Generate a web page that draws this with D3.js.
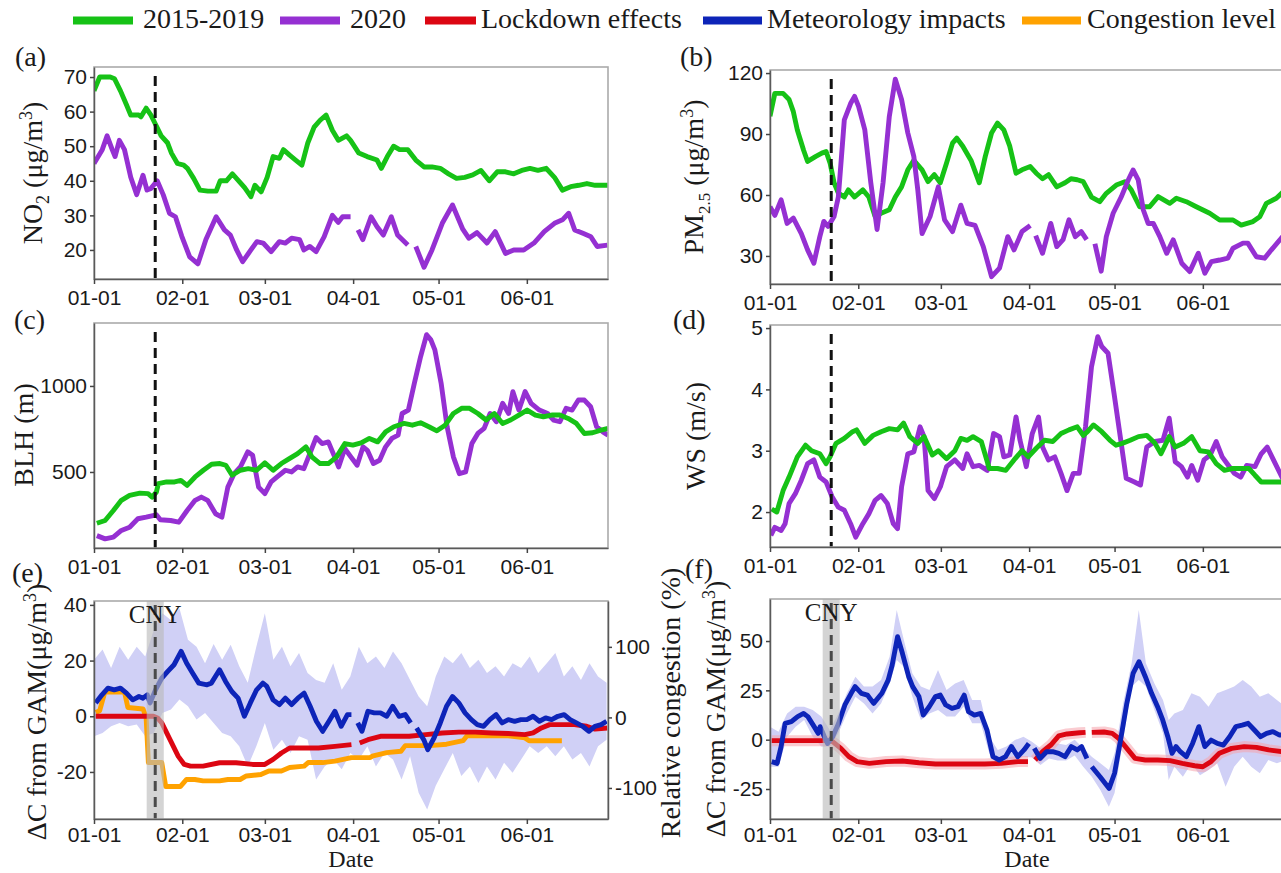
<!DOCTYPE html>
<html><head><meta charset="utf-8">
<script src="https://cdn.jsdelivr.net/npm/d3@7"></script>
<style>body{margin:0;background:#fff}svg{display:block}</style>
</head><body>
<svg id="c" width="1281" height="873"></svg>
<script>
// ---------------- DATA (day index from 2020-01-01, value) ----------------
const monthTickLabels = ["01-01","02-01","03-01","04-01","05-01","06-01"];
const lockdownDay = 21.5;          // dashed line
const cnyBand = [18.5, 24.5];      // CNY shaded period
const dayEnd = 180.5;

const no2_1519 = [[0,66],[2,70],[5.7,70],[7.2,69.5],[9.3,66],[11.4,62],[12.9,59],[15.7,59],[16.5,58.5],[18.3,61],[20,59],[21.5,56.5],[23.6,53],[25.8,51],[27.2,48],[29.3,45],[31.5,44.5],[32.9,43.5],[35,40.7],[37.2,37.3],[40,37],[42.9,37],[44.3,40],[46.5,40],[48.6,42],[50.8,40],[52.9,38],[55.1,35.4],[56.5,38.7],[58.7,36.8],[60.8,41],[62.9,47],[65.1,46.5],[66.5,49],[68.7,47.4],[70.8,46],[73,44.5],[75.1,51],[77.3,55.5],[79.4,57.5],[81.5,59],[83.7,54.6],[85.8,51.7],[88.7,53],[90.1,51.7],[93,48],[95.9,47],[99.4,46],[100.9,43.6],[103,47],[105.2,50],[107.3,49],[110.2,49],[113,46],[115.9,44],[118.7,44],[121.6,43.6],[124.5,42],[127.3,40.7],[130.2,41],[133,41.7],[135.9,43],[138.8,40],[141.6,42.6],[144.5,42.6],[147.4,42],[150.2,43],[153.1,43.6],[155.9,43],[158.8,43.6],[161.7,41],[164.5,37.3],[167.4,38.3],[170.2,38.7],[173.1,39.2],[176,38.7],[180.5,38.7]];
const no2_2020 = [[0,45],[2.9,49],[4.6,53],[6.4,49],[7.4,47],[8.9,51.7],[10.7,49],[12.9,41],[15,36],[17.2,41.6],[18.6,37.3],[20,37.8],[22.2,40],[24.3,36],[26.5,30.6],[28.6,29.6],[30.8,24],[33.6,18],[36.5,16],[39.3,23],[42.9,29.6],[45.8,25.8],[47.9,24.3],[50.1,20],[52.2,16.6],[55.1,20],[57.2,22.4],[59.4,22],[62.2,19.5],[65.1,22.4],[67.2,22],[69.4,23.4],[72.2,23],[73.7,20],[75.8,21],[78,19.5],[80.8,23.8],[83.7,30],[85.8,28],[87.3,29.6],[90.1,29.6],[91.4,null],[92.7,25.8],[94.4,23],[97.3,29.6],[99.4,26.7],[101.6,24.3],[104.4,29.6],[106.6,24.3],[110.2,21.4],[111.6,null],[113,21],[115.9,15],[118.7,20],[122.3,27.7],[125.9,33],[129.5,26],[131.6,23.4],[134.5,25],[138,22],[140.9,25.3],[144.5,19],[147.4,20],[150.9,20],[154.5,22],[158.1,25.3],[161.7,27.7],[164.5,28.7],[166.7,30.6],[168.8,25.8],[171.7,24.8],[174.5,23.8],[176.7,21],[180.3,21.4]];

const pm_1519 = [[0,98.7],[1.7,110],[4.6,110],[6.7,107],[8.2,101],[9.6,92],[11.8,82],[13.2,76.5],[16.1,79],[18.2,80.6],[19.7,81.4],[21.1,75.7],[22.5,66],[24,61],[26.1,59],[27.5,62.5],[29.7,59],[32.6,62.5],[34.7,59],[36.9,49.4],[39,51],[41.9,52.7],[44,59],[46.2,64],[48.4,72.4],[50.5,77],[53.4,72.4],[55.5,66.6],[57.7,70],[59.8,66],[62,75.7],[64.1,85.5],[65.6,88],[67.7,84],[70.6,77],[73.5,66],[75.6,79],[77.8,90.5],[79.9,95.4],[82.1,92],[84.2,84],[86.4,70.7],[88.5,72.4],[91.4,74],[93.5,70.7],[95.7,68],[97.8,70],[100.7,64],[103.6,66],[105.7,68],[107.9,67.5],[110,66.6],[112.9,59],[115.8,56.7],[118.1,60.8],[121.6,64.9],[124.6,66.5],[126.9,62.4],[129.8,54.2],[133.3,54.2],[136.3,59.2],[140.4,55.9],[142.7,58.4],[146.2,56.7],[149.7,54.2],[154.4,51],[157.9,47.7],[162.6,47.7],[165.5,45.2],[169.6,46.9],[172,49.3],[174.3,55.9],[177.8,58.4],[180.5,62]];
const pm_2020 = [[0,54.3],[1.7,50],[3.9,57.6],[6,46],[8.2,48.6],[11,41],[13.2,33],[15.4,26.4],[17.5,39.5],[18.9,47],[20.4,44.5],[22.5,49.4],[24,59],[26.1,97],[28.3,105],[29.7,108.5],[31.1,103.6],[33.3,92],[35.4,66],[37.6,43],[39.7,66],[41.9,98.7],[44,117],[46.2,107],[48.4,90.5],[50.5,79],[51.9,62.5],[53.4,41],[56.2,49.4],[59.1,64],[61.3,47.8],[64.1,42],[67,55],[69.2,46],[72,45],[74.9,34.6],[77.8,19.8],[80.6,24],[83.5,39.5],[85.7,33],[88.5,42],[91.4,45],[92.3,null],[93.3,40],[95.7,31.3],[98.6,46],[100.7,34.6],[102.9,38],[105,47.8],[107.2,39.5],[109.3,42],[111.2,38],[112.6,null],[114.1,36],[116.3,22.5],[118.1,39.5],[120.5,51],[123.4,59.2],[125.8,67.4],[127.5,72.3],[129.3,67.4],[131.1,52.6],[132.8,46],[134.6,46],[136.9,39.5],[139.3,31.3],[141.6,37.9],[144.6,26.4],[147.4,22.3],[150.4,31.3],[152.7,21.5],[155,27.2],[157.9,28],[160.8,28.9],[162.6,33.8],[166.1,36.3],[167.8,36.3],[170.8,29.6],[173.7,28.9],[176,32.9],[180.5,40.3]];

const blh_1519 = [[1,202],[3.9,218],[6.8,276],[9.6,335],[12.5,364],[16.1,377],[19,374],[20.4,354],[21.9,383],[22.6,432],[25.5,442],[28.3,442],[30.5,451],[32.7,422],[35.5,471],[38.4,510],[41.3,545],[44.2,549],[46.3,539],[48.5,481],[51.4,510],[54.2,519],[57.1,510],[60,553],[62.9,510],[65.8,549],[68.6,578],[71.5,607],[74.4,646],[76.5,588],[79.4,549],[82.3,549],[85.2,588],[88.1,665],[90.9,656],[93.8,669],[96.7,695],[99.6,675],[102.4,733],[105.3,763],[108.9,782],[111.8,772],[114.7,786],[117.6,763],[120.4,739],[123.3,772],[126.2,840],[129.1,870],[131.9,870],[134.8,840],[137.7,802],[140.6,840],[143.5,782],[146.3,802],[149.2,831],[152.1,860],[155,831],[157.8,821],[160.7,831],[163.6,831],[166.5,811],[169.4,782],[172.2,724],[175.1,728],[178,743],[180.5,753]];
const blh_2020 = [[1,130],[3.9,111],[6.8,121],[9.6,160],[12.5,179],[15.4,228],[18.3,237],[21.9,251],[23.3,222],[26.9,218],[29.8,208],[32.7,276],[35.5,335],[37.7,354],[39.9,335],[42.7,257],[44.9,237],[47,412],[49.2,490],[51.4,529],[54,617],[55.7,597],[57.8,412],[60,374],[62.2,442],[64.3,471],[67.2,510],[69.4,500],[71.5,529],[73.7,519],[75.8,607],[78,700],[80.1,665],[82.3,675],[84.5,588],[85.9,529],[88.1,636],[90.2,588],[92.4,539],[94.5,646],[96,626],[98.1,549],[100.3,568],[102.4,646],[104.6,695],[106.8,714],[108.2,840],[110.4,860],[112.5,1016],[114.7,1171],[116.8,1298],[118.3,1268],[119.7,1210],[121.9,1016],[124,763],[126.2,588],[128.3,490],[130.5,500],[132.7,665],[134.8,724],[137,753],[139.1,840],[141.3,792],[143.5,899],[145.6,840],[147.1,967],[149.2,860],[151.4,967],[153.5,899],[156.4,860],[159.3,840],[161.4,802],[163.6,792],[165.8,870],[167.9,860],[170.1,918],[172.2,918],[174.4,879],[176.5,763],[178.7,733],[180.5,714]];

const ws_1519 = [[0.6,2.05],[2.4,2.0],[4.6,2.35],[6.7,2.57],[9.6,2.9],[12.5,3.09],[14.6,3.0],[17.5,2.95],[19.7,2.79],[21.1,2.9],[23.2,3.12],[26.1,3.2],[29,3.31],[30.4,3.34],[33.3,3.12],[36.2,3.25],[39,3.31],[41.9,3.36],[44.8,3.34],[46.9,3.45],[49.1,3.23],[51.9,3.12],[54.1,3.23],[57,2.93],[59.1,3.0],[62,2.87],[64.9,3.0],[67,3.2],[69.2,3.17],[71.3,3.23],[74.2,3.15],[77,2.71],[79.9,2.71],[82.8,2.68],[85.7,2.85],[88.5,3.0],[90.7,2.9],[93.5,3.04],[96.4,3.17],[99.3,3.15],[102.2,3.28],[105,3.34],[107.9,3.39],[110,3.25],[111.5,3.31],[113.6,3.42],[116.5,3.31],[119.4,3.17],[121.5,3.09],[123.7,3.12],[126.5,3.17],[129.4,3.23],[132.3,3.25],[135.2,3.12],[137.3,2.95],[140.2,3.23],[142.3,3.06],[145.2,3.12],[148.1,3.23],[151,3.0],[153.9,2.98],[156.7,2.79],[159.6,2.68],[162.4,2.71],[165.3,2.71],[168.2,2.71],[170.3,2.6],[172.5,2.49],[176,2.49],[180.5,2.49]];
const ws_2020 = [[0.3,1.62],[1.7,1.75],[3.9,1.7],[5.3,1.81],[6.7,2.14],[8.9,2.3],[11,2.52],[13.2,2.79],[15.4,2.85],[17.5,2.57],[19.7,2.49],[21.8,2.25],[24,2.08],[26.1,2.03],[28.3,1.81],[30.1,1.59],[32.6,1.81],[34.7,1.97],[36.9,2.19],[39,2.27],[41.2,2.14],[43.3,1.81],[44.8,1.73],[46.2,2.41],[48.4,2.95],[50.5,2.98],[52.7,3.39],[54.1,3.23],[55.5,2.35],[57.7,2.22],[59.8,2.41],[62,2.74],[64.9,2.85],[67.7,2.71],[69.2,2.95],[71.3,2.74],[73.5,2.76],[76.3,2.68],[78.5,3.28],[80.6,3.23],[82.1,2.9],[84.2,2.93],[86.4,3.55],[87.8,3.17],[90,2.74],[92.1,3.28],[94.3,3.55],[95.7,3.06],[97.8,2.85],[100,2.9],[102.2,2.63],[104.3,2.35],[106.5,2.63],[108.6,2.63],[110.8,3.39],[112.9,4.37],[115.1,4.86],[116.5,4.7],[118.7,4.59],[120.8,3.94],[123,3.23],[125.1,2.55],[128,2.49],[130.1,2.44],[132.3,3.06],[135.2,3.15],[138,3.17],[140.2,3.53],[142.3,2.82],[144.5,2.74],[146.6,2.57],[148.1,2.76],[150.2,2.52],[152.4,2.85],[154.6,2.93],[156.7,3.15],[158.8,2.9],[161,2.76],[163.1,2.63],[165.3,2.57],[167.4,2.76],[170.3,2.74],[172.5,2.95],[174.6,3.06],[176.8,2.85],[180.5,2.5]];

// panel (e): NO2 decomposition
const e_met = [[0.6,4.8],[2.8,7.7],[4.9,10.1],[7.1,9.5],[9.3,10.1],[11.4,8.3],[13.6,5.9],[15.8,7.1],[17.2,6.5],[18.7,7.7],[19.7,4.8],[21.6,9.5],[23.8,13.7],[25.9,16.1],[28.1,18.5],[30.6,23.3],[32.5,19.1],[34.6,15.5],[36.8,11.9],[39.7,11.3],[41.2,11.9],[44.1,16.7],[46.2,12.5],[48.4,8.9],[50.6,6.5],[52.8,0],[54.9,4.8],[57.1,9.5],[59.3,11.9],[60.7,10.7],[62.9,5.9],[65.1,4.2],[67.2,6.5],[69.4,4.2],[71.6,6.5],[73.8,8.3],[75.9,3.6],[78.1,-1.8],[80.3,-5.4],[82.5,-1.8],[84.6,1.8],[86.8,-3.6],[89,0.6],[90.4,0.6],[91.5,null],[92.6,-2.4],[94.1,-5.4],[96.2,1.8],[98.4,1.2],[100.6,1.2],[102.8,0],[104.9,3.6],[107.1,0],[109.3,0.6],[111.2,-2.4],[112.2,null],[113.3,-4.2],[115.8,-8.4],[117.2,-12],[119.4,-7.8],[121.6,-2.4],[123.8,3.6],[125.9,7.1],[128.1,4.8],[130.3,1.2],[132.5,-1.2],[134.6,-3],[136.8,-3.6],[139,-1.2],[141.2,0.6],[143.3,-2.4],[145.5,-1.2],[147.7,-1.8],[149.9,-1.2],[152,-1.2],[154.2,0],[156.4,-1.8],[158.6,-0.6],[160.7,-1.2],[162.9,0],[165.1,0.6],[167.2,-1.2],[169.4,-2.4],[171.6,-3.6],[173.8,-5.4],[175.9,-3.6],[178.1,-3],[180,-1.8]];
const e_metCI = [[0,-7.2,20.3],[3,-6,24],[6,-3.6,17.3],[9,-2.4,25],[12,-3.6,20.3],[15,-3,25],[18,-7.2,21.5],[21,-6,31],[24,1.2,37],[27,2.4,34.6],[30,6,38.8],[33,3.6,27.5],[36,-1.2,25],[39,1.2,19],[42,-2.4,26],[45,-6,20.3],[48,-7.2,25.7],[51,-10.8,18],[54,-18,12],[57,-10.8,25],[60,-2.4,37],[63,-12,20.3],[66,-8.4,25],[69,-13.2,18],[72,-7.2,22.7],[75,-8.4,15.5],[78,-22.7,13],[81,-18,12],[84,-15.5,19],[87,-19,9.5],[90,-13.2,14.3],[93,-15.5,25],[96,-10.8,19],[99,-18,21.5],[102,-13.2,17.3],[105,-15.5,23.3],[108,-22.7,19],[111,-14.4,13],[114,-27.5,7.1],[117,-33.5,3.6],[120,-25,14.3],[123,-19,21.5],[126,-13.2,19],[129,-21.5,22.7],[132,-18,17.3],[135,-24,20.3],[138,-18,15.5],[141,-22.7,18],[144,-16.7,14.3],[147,-20.3,19],[150,-15.5,17.3],[153,-10.8,21.5],[156,-13.2,15.5],[159,-10.8,19],[162,-14.4,22.7],[165,-10.8,14.3],[168,-15.5,18],[171,-13.2,13],[174,-18,19],[177,-10.8,14.3],[180,-8.4,12]];
const e_lock = [[0.6,0],[20.9,0],[22.3,-0.6],[23.8,-2.4],[26.7,-8.4],[29.6,-14.4],[31.7,-17.3],[33.9,-17.9],[38.3,-17.9],[44.1,-16.7],[49.9,-16.7],[55.7,-17.3],[60,-17.3],[62.9,-15.5],[65.8,-13.2],[68.7,-11.4],[73,-11.4],[78.8,-11.4],[84.6,-10.8],[90.4,-10.2],[91.8,null],[93.3,-9.6],[96.2,-8.4],[100.6,-7.2],[104.9,-7.2],[110.7,-7.2],[116.5,-6.6],[122.3,-6],[128.1,-5.7],[133.9,-5.7],[139.7,-6],[145.5,-6.2],[151.3,-6.6],[154.2,-6],[157.1,-4.2],[160,-3],[162.9,-3],[168.7,-3],[173,-3.6],[175.9,-4.6],[180.3,-4.2]];
const e_congestion = [[0.6,7],[2,9.5],[3.8,36],[10.7,36],[11.9,14],[17.2,12],[18.3,0],[19.1,-64],[23.8,-64],[25.2,-98],[30.3,-98],[32.5,-88],[35.4,-88],[38.3,-90],[44.1,-90],[47,-88],[51.3,-88],[53.5,-83],[58.6,-81],[61.4,-76],[65.8,-76],[68.7,-71],[73.8,-69],[75.2,-64],[80.3,-64],[84.6,-62],[90.4,-57],[97,-57],[97.7,-55],[102.8,-50],[107.8,-48],[109.3,-40],[118,-40],[123.8,-38],[129.6,-33],[131,-26],[145.5,-26],[151.3,-29],[152.8,-33],[164.3,-33]];

// panel (f): PM2.5 decomposition
const f_met = [[0.6,-11.1],[2.5,-12],[3.9,-3.5],[5.3,8.3],[7.5,9.1],[9.7,11.7],[11.8,13.3],[13.3,11.7],[15.5,6.6],[16.9,3.2],[17.6,6.6],[19.1,1.5],[20.2,-1.9],[22,1.5],[24.1,8.3],[26.3,17.6],[28.5,23.5],[29.9,26.9],[32.1,23.5],[34.2,22.6],[36.4,18.4],[39.3,23.5],[41.5,30.2],[42.9,37.8],[44.8,52.2],[46.5,43.8],[48.7,31.9],[50.1,26.9],[52.3,21.8],[53.8,12.5],[55.9,16.7],[58.1,21.8],[59.8,22.6],[61.7,17.6],[63.9,15.9],[66,16.7],[68.2,22.6],[69.7,14.2],[71.8,12.5],[74,13.3],[76.2,4.9],[78.3,-8.6],[80.5,-10.3],[82.7,-8.6],[84.8,-3.5],[87,-8.6],[89.2,-5.2],[90.9,-1.9],[91.8,null],[92.8,-4.4],[94.9,-9.5],[97.1,-6.1],[99.3,-6.1],[101.4,-6.9],[103.6,-8.6],[105.8,-3.5],[107.9,-5.2],[109.4,-3.5],[111.3,-9.5],[112.2,null],[113,-13.7],[115.9,-18.8],[119.1,-24.7],[121,-17],[123.1,-0.2],[125.3,18.4],[127.5,33.6],[129.6,39.5],[131.8,31.9],[134,23.5],[136.1,16.7],[137.9,10],[139.7,1.5],[141.2,-6.9],[142.6,-3.5],[144.1,-6.1],[146.2,-8.6],[148.4,-1.9],[150.6,6.6],[152.7,-3.5],[154.9,-0.2],[157.1,-1.9],[159.2,-2.7],[161.4,1.5],[163.6,6.6],[165.8,7.4],[167.9,8.3],[170.1,4.9],[172.3,1.5],[174.4,3.2],[176.6,4.1],[178.8,2.4],[180.6,2.4]];
const f_metCI = [[0,-13.7,6.6],[3,-13.7,4],[6,1.5,13.3],[9,6.6,16.7],[12,10,16.7],[15,1.5,15],[18,-3.5,11.7],[21,-3.5,4.9],[24,3.2,13.3],[27,13.3,23.5],[30,21.8,31.9],[33,18.4,26.9],[36,13.3,26.9],[39,18.4,30.2],[42,28.5,42],[44.5,40.4,65.7],[47,37,50.5],[50,21.8,33.6],[53,10,26.9],[56,13.3,25.2],[59,15,35.3],[62,11.7,25.2],[65,11.7,28.5],[68,16.7,30.2],[71,8.3,20.1],[74,8.3,20.1],[77,-6.9,1.5],[80,-13.7,-5.2],[83,-11.1,-3.5],[86,-10.3,-0.2],[89,-8.6,1.5],[92,-9,-1],[95,-12.8,-4.4],[98,-9.5,-1.9],[101,-10.5,-1.9],[104,-10.5,-2.7],[107,-8,0],[110,-13.7,-4.4],[113,-18.8,-8.6],[116,-25.5,-12],[119,-34,-15.4],[121,-27,-6.9],[124,-0.2,18.4],[127,26.9,38.7],[129.5,30.2,65.7],[132,26.9,38.7],[135,15,28.5],[138,3.2,20.1],[140,-20.4,10],[142,-13.7,13.3],[145,-18.8,15],[148,-12,23.5],[151,-18,21.8],[154,-15.4,16.7],[157,-12,23.5],[160,-23.8,25.2],[163,-13.7,26.9],[166,-8.6,30.2],[169,-13.7,26.9],[172,-17,21.8],[175,-10.3,23.5],[178,-12,20.1],[181,-10.3,16.7]];
const f_lock = [[0.6,-0.5],[20,-0.5],[22,-1],[24.9,-4.4],[27.7,-8.6],[30.6,-11.1],[34.9,-12],[40.8,-11.1],[46.5,-10.8],[52.3,-11.7],[58.1,-12.3],[66.8,-12.3],[75.4,-12.3],[81.2,-12],[87,-11.1],[90.6,-11.1],[91.8,null],[93.1,-10.3],[95.7,-6.1],[98.6,-2.7],[101.4,1.9],[104.3,2.9],[108.7,3.5],[110.8,3.7],[111.9,null],[113,3.7],[117.3,3.9],[120.2,3.2],[122.4,0.7],[125.3,-4.4],[128.2,-9.5],[131.8,-10.3],[136.1,-10.3],[140.5,-10.6],[144.8,-12],[149.1,-13.2],[152,-13.7],[154.9,-11.1],[157.8,-6.9],[162.1,-4.4],[166.5,-3.5],[170.8,-3.9],[175.1,-5.2],[180.6,-6.2]];

const legendItems = ["2015-2019","2020","Lockdown effects","Meteorology impacts","Congestion level"];

// ---------------- STYLE / LAYOUT ----------------
const C = {green:"#16c216", purple:"#9530d2", red:"#dc0612", blue:"#0d24b8", orange:"#ffa200", band:"#d0d0f6"};
const SERIF = '"Liberation Serif","Times New Roman",Times,serif';
const SANS = '"Liberation Sans",Arial,Helvetica,sans-serif';
const start = new Date(2020,0,1);
const toDate = d => new Date(start.getTime() + d*864e5);
const monthTicks = d3.timeMonth.range(new Date(2020,0,1), new Date(2020,6,1));
const svg = d3.select('#c');
const defs = svg.append('defs');
const LW = 4.9;

function makePanel(p){
  const x = d3.scaleTime().domain([toDate(0), toDate(dayEnd)]).range([p.x0,p.x1]);
  const y = d3.scaleLinear().domain(p.yDom).range([p.y1,p.y0]);
  const g = svg.append('g');
  const cid = 'clip-'+p.id;
  defs.append('clipPath').attr('id',cid).append('rect')
    .attr('x',p.x0).attr('y',p.y0).attr('width',p.x1-p.x0).attr('height',p.y1-p.y0);
  const plot = g.append('g').attr('clip-path',`url(#${cid})`);
  const over = g.append('g');
  over.append('rect').attr('x',p.x0).attr('y',p.y0).attr('width',p.x1-p.x0).attr('height',p.y1-p.y0)
    .attr('fill','none').attr('stroke','#ababab').attr('stroke-width',1.6);
  const xa = over.append('g').attr('transform',`translate(0,${p.y1})`)
    .call(d3.axisBottom(x).tickValues(monthTicks).tickFormat((d,i)=>monthTickLabels[i]).tickSize(5).tickSizeOuter(0).tickPadding(p.xPad||6));
  const ya = over.append('g').attr('transform',`translate(${p.x0},0)`)
    .call(d3.axisLeft(y).tickValues(p.yTicks).tickFormat(d=>String(d)).tickSize(4).tickSizeOuter(0).tickPadding(3));
  [xa,ya].forEach(styleAxis);
  return {g,plot,over,x,y,p};
}
function styleAxis(a){
  a.select('.domain').attr('stroke','#5a5a5a').attr('stroke-width',1.5);
  a.selectAll('.tick line').attr('stroke','#444').attr('stroke-width',1.5);
  a.selectAll('.tick text').attr('font-family',SANS).attr('font-size',21).attr('fill','#1a1a1a');
}
function line(P,data,color,w,ys){
  const yy = ys||P.y;
  return P.plot.append('path').datum(data)
    .attr('d',d3.line().defined(d=>d[1]!=null).x(d=>P.x(toDate(d[0]))).y(d=>yy(d[1])))
    .attr('fill','none').attr('stroke',color).attr('stroke-width',w)
    .attr('stroke-linejoin','round').attr('stroke-linecap','butt');
}
function band(P,data,color){
  P.plot.append('path').datum(data)
    .attr('d',d3.area().x(d=>P.x(toDate(d[0]))).y0(d=>P.y(d[1])).y1(d=>P.y(d[2])))
    .attr('fill',color).attr('stroke','none');
}
function dashed(P,color,topPad){
  const xx = P.x(toDate(lockdownDay));
  P.plot.append('line').attr('x1',xx).attr('x2',xx).attr('y1',P.p.y0+topPad).attr('y2',P.p.y1)
    .attr('stroke',color).attr('stroke-width',3).attr('stroke-dasharray','10,6');
}
function cny(P,baseY){
  P.plot.append('rect').attr('x',P.x(toDate(cnyBand[0]))).attr('y',P.p.y0)
    .attr('width',P.x(toDate(cnyBand[1]))-P.x(toDate(cnyBand[0]))).attr('height',P.p.y1-P.p.y0)
    .attr('fill','#b9b9b9').attr('opacity',0.62);
  dashed(P,'#4a4a4a',4);
  P.over.append('text').attr('x',P.x(toDate(lockdownDay))).attr('y',baseY).attr('text-anchor','middle')
    .attr('font-family',SERIF).attr('font-size',25).attr('fill','#1a1a1a').text('CNY');
}
// rotated rich title; parts: [text, dy, size]
function vtitle(cx,cy,parts){
  const t = svg.append('text').attr('transform',`translate(${cx},${cy}) rotate(-90)`)
    .attr('text-anchor','middle').attr('font-family',SERIF).attr('font-size',28).attr('fill','#1a1a1a');
  parts.forEach(([s,dy,size])=>{
    const ts = t.append('tspan').text(s);
    if(dy) ts.attr('dy',dy);
    if(size) ts.attr('font-size',size);
  });
}
function plabel(x,y,s){
  svg.append('text').attr('x',x).attr('y',y).attr('font-family',SERIF).attr('font-size',28).attr('fill','#1a1a1a').text(s);
}

const L = {x0:94,x1:608}, R = {x0:770,x1:1284};
const A = makePanel({id:'a',...L,y0:67,y1:279,yDom:[11.6,72.9],yTicks:[20,30,40,50,60,70]});
const B = makePanel({id:'b',...R,y0:70,y1:284,yDom:[16.2,121.5],yTicks:[30,60,90,120]});
const Cc = makePanel({id:'c',...L,y0:323,y1:548,yDom:[58,1366],yTicks:[500,1000]});
const D = makePanel({id:'d',...R,y0:325,y1:547,yDom:[1.43,5.05],yTicks:[2,3,4,5]});
const E = makePanel({id:'e',...L,y0:601,y1:819,yDom:[-36.9,41.4],yTicks:[-20,0,20,40],xPad:3});
const F = makePanel({id:'f',...R,y0:599,y1:819,yDom:[-40.2,71.3],yTicks:[-25,0,25,50],xPad:3});

// (a)-(d)
[[A,no2_1519,no2_2020],[B,pm_1519,pm_2020],[Cc,blh_1519,blh_2020],[D,ws_1519,ws_2020]].forEach(([P,g,p],i)=>{
  if(i<2){ line(P,g,C.green,LW); line(P,p,C.purple,LW); }
  else { line(P,p,C.purple,LW); line(P,g,C.green,LW); }
  dashed(P,'#111',9);
});

// (e)
const yRight = d3.scaleLinear().domain([-144,165]).range([E.p.y1,E.p.y0]);
band(E,e_metCI,C.band);
line(E,e_congestion,C.orange,LW,yRight);
line(E,e_lock,C.red,LW);
line(E,e_met,C.blue,LW);
cny(E,623);
const ra = E.over.append('g').attr('transform',`translate(${E.p.x1},0)`)
  .call(d3.axisRight(yRight).tickValues([-100,0,100]).tickFormat(d=>String(d)).tickSize(4).tickSizeOuter(0).tickPadding(3));
styleAxis(ra);

// (f)
band(F,f_metCI,C.band);
line(F,f_lock,'#f6a3ab',11).attr('opacity',0.55);
line(F,f_lock,C.red,LW);
line(F,f_met,C.blue,LW);
cny(F,621);

// titles
vtitle(42,173,[["NO"],["2",7,18],[" (μg/m",-7],["3",-10,18],[")",10]]);
vtitle(703,177,[["PM"],["2.5",7,17],[" (μg/m",-7],["3",-10,18],[")",10]]);
vtitle(33,435,[["BLH (m)"]]);
vtitle(705,436,[["WS (m/s)"]]);
vtitle(46,712,[["ΔC from GAM(μg/m"],["3",-10,18],[")",10]]);
vtitle(725,709,[["ΔC from GAM(μg/m"],["3",-10,18],[")",10]]);
vtitle(680,703,[["Relative congestion (%)"]]);
svg.append('text').attr('x',(L.x0+L.x1)/2).attr('y',867).attr('text-anchor','middle')
  .attr('font-family',SERIF).attr('font-size',24).attr('fill','#1a1a1a').text('Date');
svg.append('text').attr('x',(R.x0+R.x1)/2).attr('y',867).attr('text-anchor','middle')
  .attr('font-family',SERIF).attr('font-size',24).attr('fill','#1a1a1a').text('Date');

plabel(15,66,'(a)'); plabel(680,66,'(b)');
plabel(14,329,'(c)'); plabel(673,329,'(d)');
plabel(12,582,'(e)'); plabel(685,578,'(f)');

// legend
const legPos = [[73,133,143],[280,340,350],[425,476,481],[703,762,767],[1022,1081,1087]];
const legCol = [C.green,C.purple,C.red,C.blue,C.orange];
legendItems.forEach((s,i)=>{
  const [sx0,sx1,tx] = legPos[i];
  svg.append('rect').attr('x',sx0).attr('y',16.5).attr('width',sx1-sx0).attr('height',8).attr('fill',legCol[i]);
  svg.append('text').attr('x',tx).attr('y',28).attr('font-family',SERIF).attr('font-size',28).attr('fill','#1a1a1a').text(s);
});
</script>
</body></html>
